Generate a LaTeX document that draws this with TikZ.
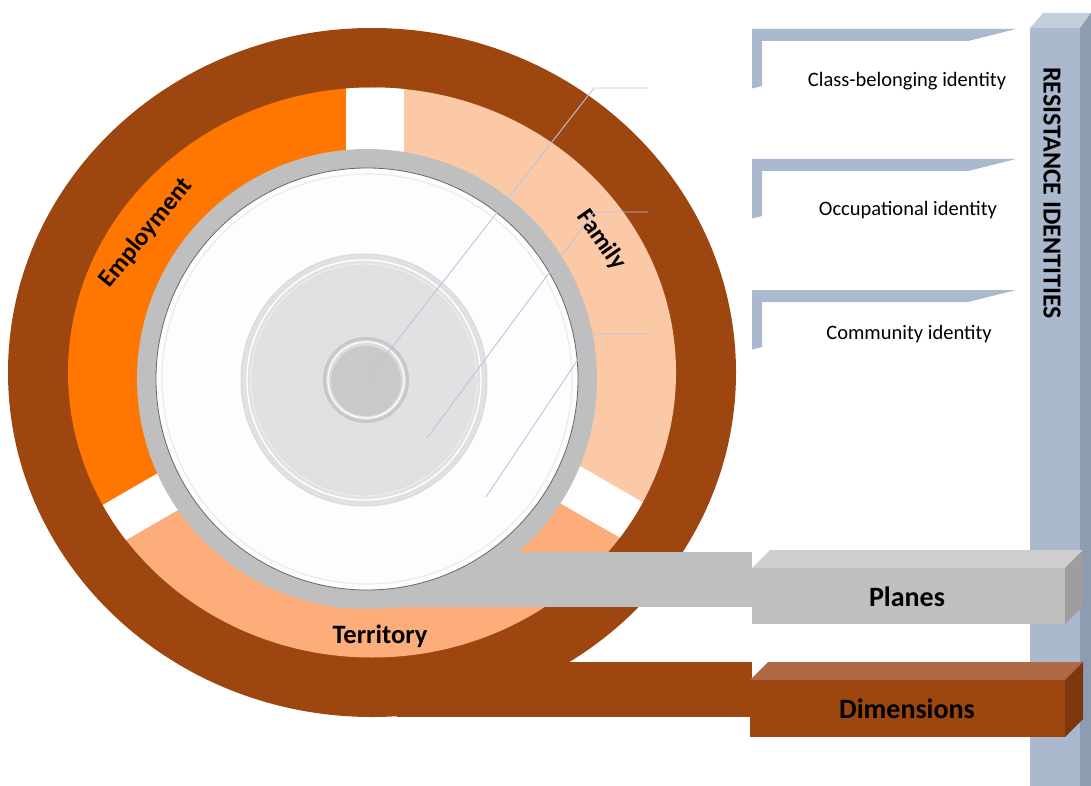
\documentclass[tikz,border=0pt]{standalone}
\usepackage{fontspec}
\setmainfont{Carlito}
\usetikzlibrary{calc}
\definecolor{ringbrown}{HTML}{9D4610}
\definecolor{emporange}{HTML}{FF7600}
\definecolor{famcolor}{HTML}{FCC9A6}
\definecolor{tercolor}{HTML}{FDAD7A}
\definecolor{planegray}{HTML}{BFBFBF}
\definecolor{planetop}{HTML}{CECECE}
\definecolor{planeside}{HTML}{9E9E9E}
\definecolor{dimtop}{HTML}{B06844}
\definecolor{dimside}{HTML}{7E360E}
\definecolor{steel}{HTML}{AAB9CD}
\definecolor{steeltop}{HTML}{C3CEDC}
\definecolor{steeldark}{HTML}{8D9CB1}
\definecolor{leadblue}{HTML}{B4C7E7}
\definecolor{midgray}{HTML}{E1E1E1}
\definecolor{centergray}{HTML}{C9C9C9}
\definecolor{discwhite}{HTML}{FDFDFD}
\begin{document}
\begin{tikzpicture}[x=1pt,y=-1pt,
  seglabel/.style={font=\bfseries\fontsize{25}{29}\selectfont, inner sep=0pt},
  boxlabel/.style={font=\bfseries\fontsize{28}{32}\selectfont, inner sep=0pt},
  ident/.style={font=\fontsize{20.5}{24}\selectfont, inner sep=0pt},
  leader/.style={draw=leadblue, line width=0.9pt},
  bracket/.style={fill=steel}]
\useasboundingbox (0,0) rectangle (1091,786);
\coordinate (C) at (372,372.5);
\coordinate (G) at (375,372);
\coordinate (W) at (367,379);

% vertical pillar
\fill[steel] (1030,28) rectangle (1080,786);
\fill[steeltop] (1030,28) -- (1043,13) -- (1091,13) -- (1080,28) -- cycle;
\fill[steeldark] (1080,28) -- (1091,13) -- (1091,786) -- (1080,786) -- cycle;
\node[font=\bfseries\fontsize{26}{30}\selectfont, inner sep=0pt, rotate=-90] (resist) at (1052,193) {RESISTANCE IDENTITIES};

% identity brackets
\foreach \t in {29,159,290}{
  \fill[bracket] (752,\t) -- (1016,\t) -- (968,\t+12) -- (762,\t+12) -- (762,\t+57) -- (752,\t+59.5) -- cycle;
}
\node[ident] (class) at (907,81) {Class-belonging identity};
\node[ident] (occup) at (908,210) {Occupational identity};
\node[ident] (commu) at (909,334) {Community identity};

% outer brown ring and its band
\fill[ringbrown] (C) ellipse [x radius=364, y radius=344.5];
\fill[ringbrown] (397,662) rectangle (752,717);

% the three segments with their gaps
\begin{scope}
  \clip (C) ellipse [x radius=304, y radius=285];
  \fill[emporange] (G) -- +(270:700) -- +(210:700) -- +(150:700) -- cycle;
  \fill[famcolor] (G) -- +(30:700) -- +(-30:700) -- +(-90:700) -- cycle;
  \fill[tercolor] (G) -- +(30:700) -- +(90:700) -- +(150:700) -- cycle;
  \begin{scope}[shift={(G)}]
    \fill[white] (-29,0) rectangle (29,-400);
    \fill[white, rotate=120] (-21,0) rectangle (21,-400);
    \fill[white, rotate=-120] (-21,0) rectangle (21,-400);
  \end{scope}
\end{scope}

% grey plane band and ring
\fill[planegray] (367,552) rectangle (752,607);
\fill[planegray] (W) circle [radius=230];
\fill[discwhite] (W) circle [radius=211];
\draw[black!60, line width=0.8pt] (W) circle [radius=211];
\draw[black!8, line width=1.2pt] (W) circle [radius=205];

% middle disc
\fill[midgray] (364,380) ellipse [x radius=123, y radius=126];
\draw[black!15, line width=1pt] (364,380) ellipse [x radius=123, y radius=126];
\draw[white, line width=1.4pt] (364,380) ellipse [x radius=117, y radius=120];
\draw[black!6, line width=0.8pt] (364,380) ellipse [x radius=113, y radius=116];

% centre disc
\fill[black!22] (366,380) circle [radius=43];
\fill[black!14] (366,380) circle [radius=40];
\fill[centergray] (366,381) circle [radius=35];
\draw[white, line width=1.2pt] (366,380) circle [radius=38];

% segment labels
\node[seglabel, rotate=51] (employ) at (146,233) {Employment};
\node[seglabel, rotate=-55] (family) at (601,240) {Family};
\node[seglabel, font=\bfseries\fontsize{26.5}{30}\selectfont] (territ) at (380,636) {Territory};

% plane box
\fill[planegray] (752,568) rectangle (1065,624);
\fill[planetop] (752,568) -- (770,550) -- (1083,550) -- (1065,568) -- cycle;
\fill[planeside] (1065,568) -- (1083,550) -- (1083,606) -- (1065,624) -- cycle;
\node[boxlabel] (planes) at (907,597) {Planes};

% dimension box
\fill[ringbrown] (750,680) rectangle (1065,737);
\fill[dimtop] (750,680) -- (768,662) -- (1083,662) -- (1065,680) -- cycle;
\fill[dimside] (1065,680) -- (1083,662) -- (1083,719) -- (1065,737) -- cycle;
\node[boxlabel] (dims) at (907,709) {Dimensions};

% leader lines
\coordinate (a1) at (648,88);  \coordinate (b1) at (594,88);  \coordinate (c1) at (368,378);
\coordinate (a2) at (648,212); \coordinate (b2) at (594,212); \coordinate (c2) at (427,438);
\coordinate (a3) at (648,334); \coordinate (b3) at (595,334); \coordinate (c3) at (486,497);
\draw[leader] (a1) -- (b1) -- (c1);
\draw[leader] (a2) -- (b2) -- (c2);
\draw[leader] (a3) -- (b3) -- (c3);
\end{tikzpicture}
\end{document}
